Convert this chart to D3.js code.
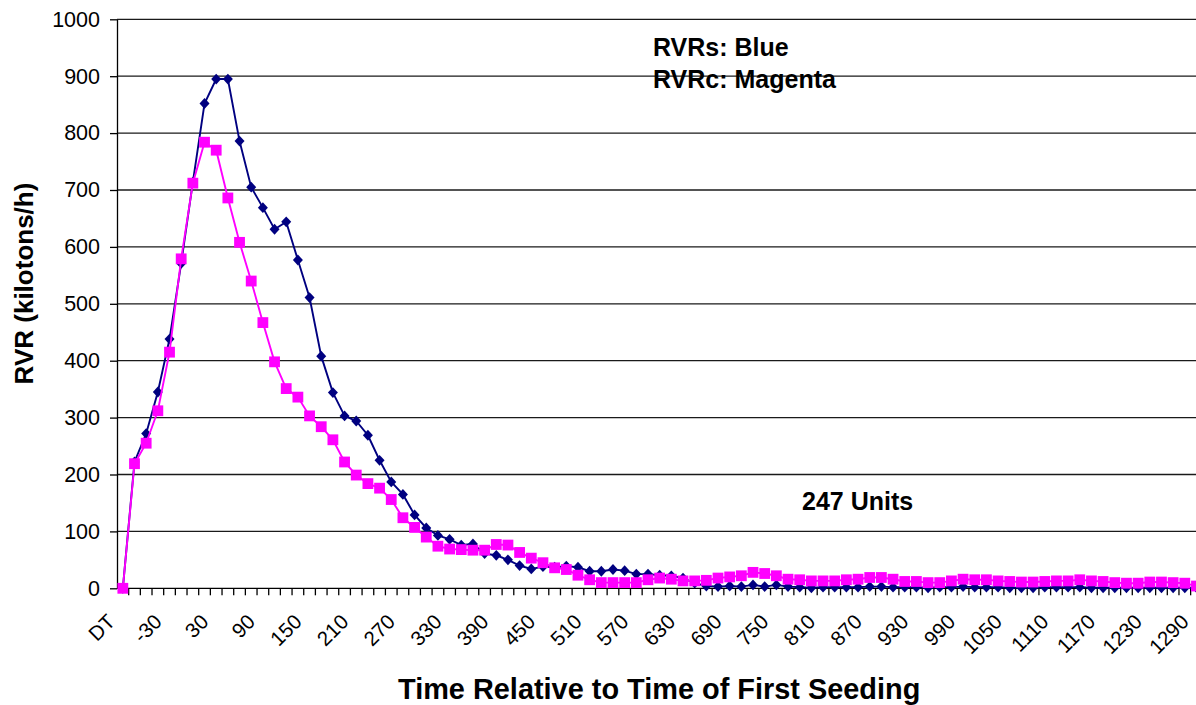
<!DOCTYPE html>
<html>
<head>
<meta charset="utf-8">
<script src="https://cdn.jsdelivr.net/npm/d3@7"></script>
<style>
  html, body { margin: 0; padding: 0; background: #fff; }
  svg { display: block; font-family: "Liberation Sans", Arial, sans-serif; }
  .grid line { stroke: #1a1a1a; stroke-width: 1.3; }
  .axis path, .axis line { stroke: #000; stroke-width: 1.3; }
  .axis text { fill: #000; font-size: 21.5px; }
  .axis .xlab { font-size: 20.5px; }
  .titulo { font-weight: bold; fill: #000; }
</style>
</head>
<body>
<div id="graf"></div>
<script>
// Categorias (minutos relativos a la primera siembra)
const categorias = ["DT", -75, -60, -45, -30, -15, 0, 15, 30, 45, 60, 75, 90, 105, 120, 135, 150, 165, 180, 195,
  210, 225, 240, 255, 270, 285, 300, 315, 330, 345, 360, 375, 390, 405, 420, 435, 450, 465, 480, 495,
  510, 525, 540, 555, 570, 585, 600, 615, 630, 645, 660, 675, 690, 705, 720, 735, 750, 765, 780, 795,
  810, 825, 840, 855, 870, 885, 900, 915, 930, 945, 960, 975, 990, 1005, 1020, 1035, 1050, 1065, 1080, 1095,
  1110, 1125, 1140, 1155, 1170, 1185, 1200, 1215, 1230, 1245, 1260, 1275, 1290]

// RVRs (azul)
const rvrs = [0, 222, 272, 345, 438, 571, 714, 852, 895, 895, 786, 705, 669, 631, 644, 577, 511, 408, 344, 303,
  294, 269, 225, 187, 165, 129, 106, 93, 86, 76, 78, 61, 58, 50, 40, 34, 38, 37, 39, 37,
  30, 30, 33, 31, 25, 25, 23, 22, 18, 9, 4, 3, 4, 3, 6, 3, 6, 3, 2, 1,
  2, 2, 2, 2, 3, 3, 2, 2, 2, 1, 2, 2, 3, 2, 2, 2, 1, 1, 1, 2,
  2, 2, 2, 1, 1, 1, 1, 1, 1, 1, 1, 1, 1]

// RVRc (magenta)
const rvrc = [0, 219, 255, 312, 415, 579, 712, 784, 770, 686, 608, 540, 467, 398, 351, 336, 303, 284, 261, 222,
  199, 184, 176, 156, 124, 107, 90, 74, 69, 68, 67, 67, 77, 76, 63, 53, 45, 36, 33, 23,
  15, 10, 10, 10, 10, 15, 18, 16, 13, 13, 14, 18, 20, 22, 28, 26, 22, 16, 15, 13,
  13, 13, 15, 16, 19, 19, 16, 12, 12, 10, 10, 13, 16, 15, 15, 13, 12, 11, 11, 12,
  13, 13, 15, 13, 12, 10, 9, 9, 11, 11, 10, 9, 4]

const yTicks = [0, 100, 200, 300, 400, 500, 600, 700, 800, 900, 1000]

const anchoTotal = 1196
const altoTotal = 705
const margins = { top: 19.3, left: 117, bottom: altoTotal - 588.3 }
const ancho = 93 * 11.67
const alto = altoTotal - margins.top - margins.bottom

const svg = d3.select("#graf").append("svg")
  .attr("width", anchoTotal)
  .attr("height", altoTotal)

const g = svg.append("g")
  .attr("transform", `translate(${margins.left}, ${margins.top})`)

// Escaladores
const x = d3.scaleBand().domain(categorias.map(String)).range([0, ancho]).padding(0)
const y = d3.scaleLinear().domain([0, 1000]).range([alto, 0])
const cx = (i) => x(String(categorias[i])) + x.bandwidth() / 2

// Rejilla
g.append("g").classed("grid", true)
  .selectAll("line").data(yTicks.filter(d => d > 0)).join("line")
  .attr("x1", 0).attr("x2", ancho)
  .attr("y1", d => y(d)).attr("y2", d => y(d))

// Eje y
g.append("g").classed("axis", true)
  .call(d3.axisLeft(y).tickValues(yTicks).tickFormat(d3.format("d")).tickSize(7).tickSizeOuter(0).tickPadding(10))
  .call(a => a.selectAll("text").attr("font-family", null).attr("font-size", null))

// Eje x (marcas entre categorias)
const xAxisGroup = g.append("g").classed("axis", true)
  .attr("transform", `translate(0,${alto})`)
xAxisGroup.append("line").attr("x1", 0).attr("x2", ancho).attr("y1", 0).attr("y2", 0)
xAxisGroup.selectAll(".tick").data(d3.range(1, categorias.length)).join("line")
  .attr("x1", d => x(String(categorias[d]))).attr("x2", d => x(String(categorias[d])))
  .attr("y1", 0).attr("y2", 7)

g.append("g").classed("axis", true)
  .selectAll("text").data(categorias.filter((d, i) => i % 4 === 0)).join("text")
  .classed("xlab", true)
  .attr("text-anchor", "end")
  .attr("transform", d => `translate(${x(String(d)) + x.bandwidth() / 2 - 6.5}, ${623 - margins.top}) rotate(-45)`)
  .text(d => d)

// Series
const linea = d3.line().x((d, i) => cx(i)).y(d => y(d))

g.append("path").datum(rvrs)
  .attr("fill", "none").attr("stroke", "#000080").attr("stroke-width", 1.9)
  .attr("d", linea)
g.append("g").selectAll("path").data(rvrs).join("path")
  .attr("d", "M0,-5.4L5,0L0,5.4L-5,0Z")
  .attr("transform", (d, i) => `translate(${cx(i)}, ${y(d)})`)
  .attr("fill", "#000080")

g.append("path").datum(rvrc)
  .attr("fill", "none").attr("stroke", "#FF00FF").attr("stroke-width", 1.9)
  .attr("d", linea)
g.append("g").selectAll("rect").data(rvrc).join("rect")
  .attr("x", (d, i) => cx(i) - 5.4).attr("y", d => y(d) - 5.4)
  .attr("width", 10.8).attr("height", 10.8)
  .attr("fill", "#FF00FF")

// Titulos
svg.append("text").classed("titulo", true)
  .attr("x", 398).attr("y", 699)
  .attr("font-size", 28.9)
  .text("Time Relative to Time of First Seeding")

svg.append("text").classed("titulo", true)
  .attr("transform", "translate(33, 283.5) rotate(-90)")
  .attr("text-anchor", "middle")
  .attr("font-size", 26)
  .text("RVR (kilotons/h)")

// Anotaciones
const notas = [
  { t: "RVRs: Blue", x: 653, y: 55.7 },
  { t: "RVRc: Magenta", x: 653, y: 88.3 },
  { t: "247 Units", x: 802, y: 510 }
]
svg.selectAll(".nota").data(notas).join("text")
  .classed("titulo", true)
  .attr("x", d => d.x).attr("y", d => d.y)
  .attr("font-size", 25)
  .text(d => d.t)
</script>
</body>
</html>
